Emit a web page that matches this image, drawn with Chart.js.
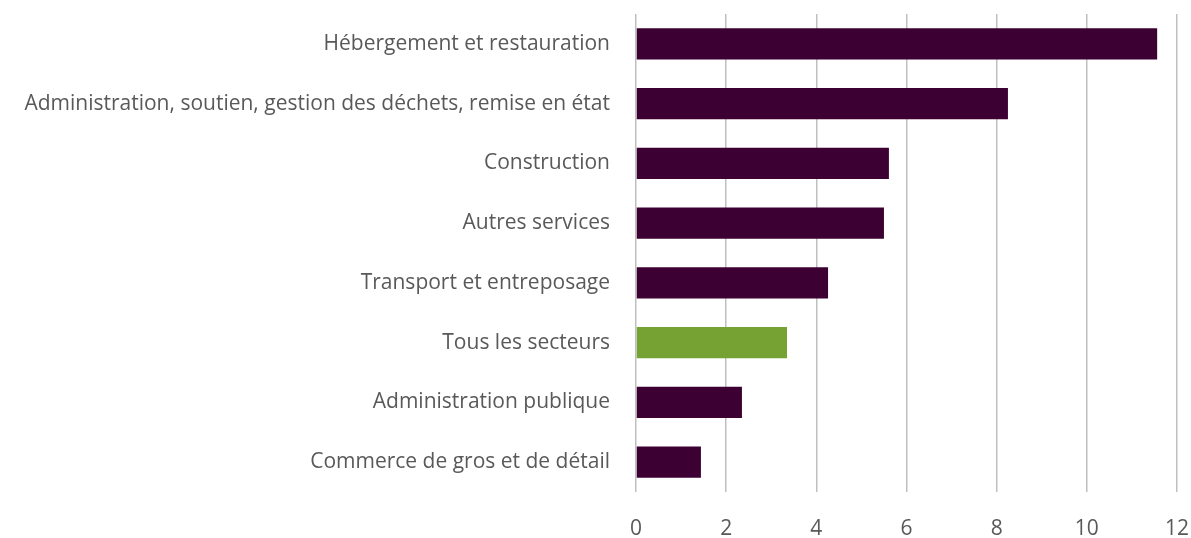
<!DOCTYPE html>
<html>
<head>
<meta charset="utf-8">
<script src="https://cdn.jsdelivr.net/npm/chart.js@4/dist/chart.umd.min.js"></script>
<style>
  html, body { margin: 0; padding: 0; background: #fff; }
  #wrap { width: 1191px; height: 538px; }
</style>
</head>
<body>
<div id="wrap"><canvas id="chart"></canvas></div>
<script>
const categories = [
    "Hébergement et restauration",
    "Administration, soutien, gestion des déchets, remise en état",
    "Construction",
    "Autres services",
    "Transport et entreposage",
    "Tous les secteurs",
    "Administration publique",
    "Commerce de gros et de détail",
];
const values = [11.56, 8.25, 5.61, 5.5, 4.26, 3.35, 2.35, 1.44];
const xTicks = [0, 2, 4, 6, 8, 10, 12];

const purple = "#3d0033";
const green = "#76a233";

const chartContainer = document.getElementById("chart");
new Chart(chartContainer, {
    type: "bar",
    data: {
        labels: categories,
        datasets: [
            {
                data: values,
                backgroundColor: categories.map((c) => c === "Tous les secteurs" ? green : purple),
                barPercentage: 0.52,
                categoryPercentage: 1,
            },
        ],
    },
    options: {
        indexAxis: "y",
        responsive: true,
        maintainAspectRatio: false,
        animation: false,
        layout: { padding: { top: 14, right: 14, bottom: 0, left: 0 } },
        plugins: {
            legend: { display: false },
            tooltip: { enabled: false },
        },
        scales: {
            x: {
                min: 0,
                max: 12,
                afterBuildTicks: (axis) => {
                    axis.ticks = xTicks.map((v) => ({ value: v }));
                },
                afterFit: (axis) => {
                    axis.height = 46;
                    axis.paddingLeft = 0;
                    axis.paddingRight = 0;
                },
                grid: { color: "#bfbfbf", lineWidth: 1.5, drawTicks: false },
                border: { display: false },
                ticks: {
                    color: "#595959",
                    padding: 24,
                    font: { family: "Open Sans", size: 21 },
                },
            },
            y: {
                afterFit: (axis) => {
                    axis.width = 636;
                    axis.paddingTop = 0;
                    axis.paddingBottom = 0;
                },
                grid: { display: false },
                border: { display: false },
                ticks: {
                    color: "#595959",
                    padding: 18,
                    font: { family: "Open Sans", size: 21 },
                },
            },
        },
    },
});
</script>
</body>
</html>
